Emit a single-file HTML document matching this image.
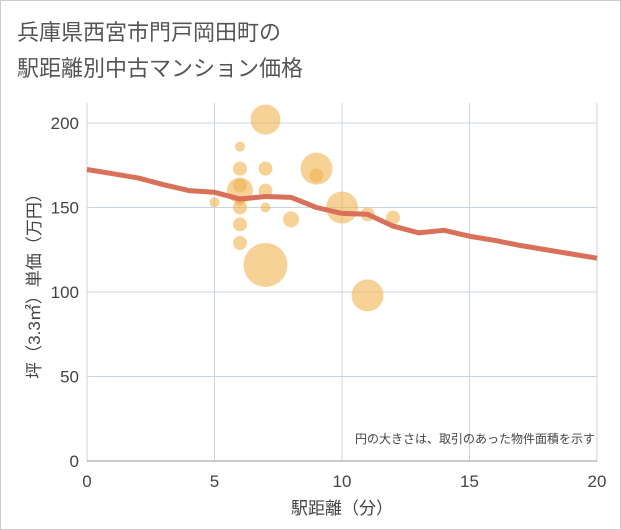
<!DOCTYPE html>
<html><head><meta charset="utf-8"><style>
body{margin:0;background:#fff;}
#wrap{position:relative;width:619px;height:528px;border:1px solid #ccc;background:#fff;font-family:"Liberation Sans","Noto Sans CJK JP",sans-serif;}
.t{position:absolute;left:16px;font-size:22px;color:#555;}
</style></head><body>
<div id="wrap">
<div class="t" style="top:14px">兵庫県西宮市門戸岡田町の</div>
<div class="t" style="top:50px">駅距離別中古マンション価格</div>
<svg id="c" width="621" height="530" style="position:absolute;left:-1px;top:-1px"></svg>
</div>
<script>
const xTicks=[0,5,10,15,20];
const yTicks=[0,50,100,150,200];
const bubbleX=[5,6,6,6,6,6,6,6,6,7,7,7,7,7,8,9,9,10,11,11,12];
const bubbleY=[153,186,173,160,163,150,140,129,154,202,173,160,150,116,143,173,169,150,146,98,144];
const bubbleR=[5,5,7,13,7,7,7,7,5,15,7,7,5,22,8,16,7,16,7,16,7];
const lineX=[0,1,2,3,4,5,6,7,8,9,10,11,12,13,14,15,16,17,18,19,20];
const lineY=[172.5,170,167.5,163.5,160,159,155,156.5,156,150,146.5,146,139,135,136.5,133,130.5,127.5,125,122.5,120];
const svg=document.getElementById('c');const NS='http://www.w3.org/2000/svg';
const X=v=>87+v*25.5, Y=v=>461-v*1.69;
function mk(t,a,p){const e=document.createElementNS(NS,t);for(const k in a)e.setAttribute(k,a[k]);(p||svg).appendChild(e);return e;}
xTicks.forEach(v=>{const l=mk('line',{x1:X(v),x2:X(v),y1:103,y2:461,stroke:'#c8d4e0','stroke-width':1});


const t=mk('text',{x:X(v),y:487,'text-anchor':'middle','font-size':17,fill:'#444'});t.textContent=v;

});
yTicks.forEach(v=>{const l=mk('line',{x1:87,x2:597,y1:Y(v),y2:Y(v),stroke:'#c8d4e0','stroke-width':1});


const t=mk('text',{x:79,y:Y(v)+6,'text-anchor':'end','font-size':17,fill:'#444'});t.textContent=v;

});
const ax=mk('line',{x1:87,x2:597,y1:461,y2:461,stroke:'#999','stroke-width':1});


bubbleX.forEach((v,i)=>{const c=mk('circle',{cx:X(v),cy:Y(bubbleY[i]),r:bubbleR[i],fill:'rgba(240,180,80,0.6)'});

});
const p=mk('polyline',{points:lineX.map((v,i)=>X(v)+','+Y(lineY[i])).join(' '),fill:'none',stroke:'#d9705a','stroke-width':5,'stroke-linejoin':'round'});


const n=mk('text',{x:595,y:443,'text-anchor':'end','font-size':12,fill:'#444'});n.textContent='円の大きさは、取引のあった物件面積を示す';


const xt=mk('text',{x:342,y:514,'text-anchor':'middle','font-size':17,fill:'#444'});xt.textContent='駅距離（分）';


const yt=mk('text',{x:0,y:0,'text-anchor':'middle','font-size':17,fill:'#444',transform:'translate(40,282) rotate(-90)'});yt.textContent='坪（3.3㎡）単価（万円）';


</script>
</body></html>
